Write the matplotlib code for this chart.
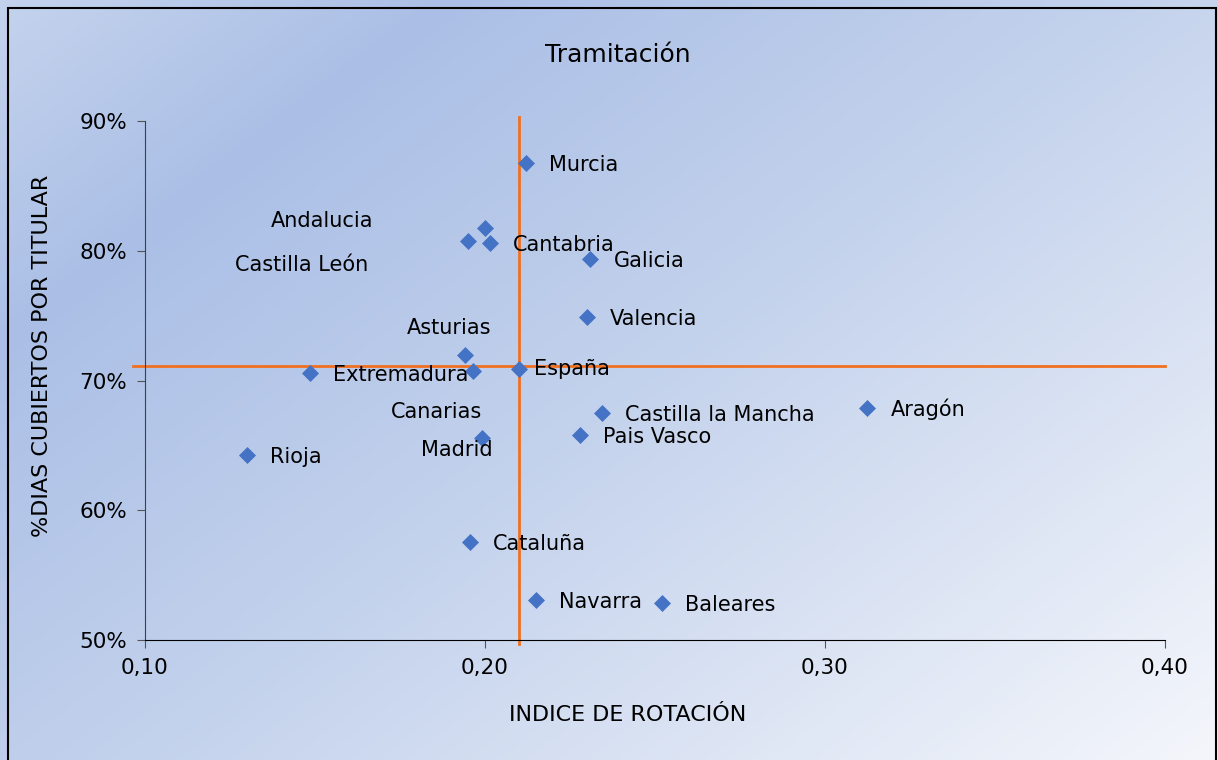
import numpy as np
import matplotlib
matplotlib.use('Agg')
import matplotlib.pyplot as plt
from matplotlib.colors import LinearSegmentedColormap
from matplotlib.patches import Rectangle
from matplotlib.ticker import FuncFormatter


regions = ['Murcia', 'Andalucia', 'Castilla León', 'Cantabria', 'Galicia', 'Valencia',
           'Asturias', 'Extremadura', 'Canarias', 'España', 'Castilla la Mancha', 'Aragón',
           'Pais Vasco', 'Madrid', 'Rioja', 'Cataluña', 'Navarra', 'Baleares']
rotacion = [0.212, 0.200, 0.195, 0.2015, 0.231, 0.230,
            0.194, 0.1485, 0.1965, 0.210, 0.2345, 0.3125,
            0.228, 0.199, 0.130, 0.1955, 0.215, 0.252]
dias_titular = [0.868, 0.8175, 0.8075, 0.806, 0.794, 0.749,
                0.720, 0.706, 0.707, 0.709, 0.675, 0.679,
                0.658, 0.656, 0.6425, 0.5755, 0.531, 0.5285]

# reference lines (España values)
ref_x = 0.21
ref_y = 0.711

x_ticks = [0.10, 0.20, 0.30, 0.40]
y_ticks = [0.50, 0.60, 0.70, 0.80, 0.90]

# label offsets in pixels (dx, dy), default is to the right of the point
label_offsets = {
    'Andalucia': (-214, 7),
    'Castilla León': (-233, -24),
    'Asturias': (-58, 27),
    'Canarias': (-82, -41),
    'Madrid': (-61, -12),
    'España': (15, 0),
}

fig = plt.figure(figsize=(12.18, 7.6), dpi=100)

# gradient background
bg = fig.add_axes([0, 0, 1, 1], zorder=-10)
bg.axis('off')
cmap = LinearSegmentedColormap.from_list('bg', [
    (0.0, (196/255, 211/255, 237/255)),
    (0.2, (171/255, 191/255, 230/255)),
    (0.5, (194/255, 209/255, 236/255)),
    (1.0, (244/255, 246/255, 251/255)),
])
gx, gy = np.meshgrid(np.linspace(0, 1, 400), np.linspace(0, 1, 300))
bg.imshow(0.55 * gx + 0.45 * gy, cmap=cmap, aspect='auto', extent=[0, 1, 0, 1], origin='upper',
          interpolation='bilinear')
bg.set_xlim(0, 1)
bg.set_ylim(0, 1)
fig.patches.append(Rectangle((8/1218, -0.05), (1216-8)/1218, 1.05 - 8/760, transform=fig.transFigure,
                             fill=False, edgecolor='black', linewidth=1.5))

ax = fig.add_axes([145/1218, 1 - 640/760, 1020/1218, 519/760])
ax.set_facecolor('none')
ax.set_xlim(0.10, 0.40)
ax.set_ylim(0.50, 0.90)
ax.spines['top'].set_visible(False)
ax.spines['right'].set_visible(False)
ax.spines['left'].set_color('#404040')
ax.spines['bottom'].set_color('black')
ax.set_xticks(x_ticks)
ax.set_yticks(y_ticks)
ax.xaxis.set_major_formatter(FuncFormatter(lambda v, p: f'{v:.2f}'.replace('.', ',')))
ax.yaxis.set_major_formatter(FuncFormatter(lambda v, p: f'{v*100:.0f}%'))
ax.tick_params(direction='out', length=6, color='#555555', labelsize=15.5, pad=7)

ax.plot([ref_x, ref_x], [0.497, 0.903], color='#f07020', linewidth=2, clip_on=False, zorder=2)
ax.plot([0.0965, 0.40], [ref_y, ref_y], color='#f07020', linewidth=2, clip_on=False, zorder=2)

ax.scatter(rotacion, dias_titular, marker='D', s=75, color='#4472c4', zorder=3, linewidths=0)

for name, x, y in zip(regions, rotacion, dias_titular):
    dx, dy = label_offsets.get(name, (23, -2))
    ax.annotate(name, (x, y), xytext=(dx, dy), textcoords='offset pixels',
                ha='left', va='center', fontsize=15, zorder=4)

ax.set_xlabel('INDICE DE ROTACIÓN', fontsize=16, va='center')
ax.set_ylabel('%DIAS CUBIERTOS POR TITULAR', fontsize=16, va='center')
ax.xaxis.set_label_coords(0.5 - 27/1020, -(715 - 640) / 519)
ax.yaxis.set_label_coords(-(145 - 42) / 1020, 0.5 + (380 - 355) / 519)
fig.text(618/1218, 1 - 55/760, 'Tramitación', ha='center', va='center', fontsize=18)

fig.savefig('out.png', dpi=100)
